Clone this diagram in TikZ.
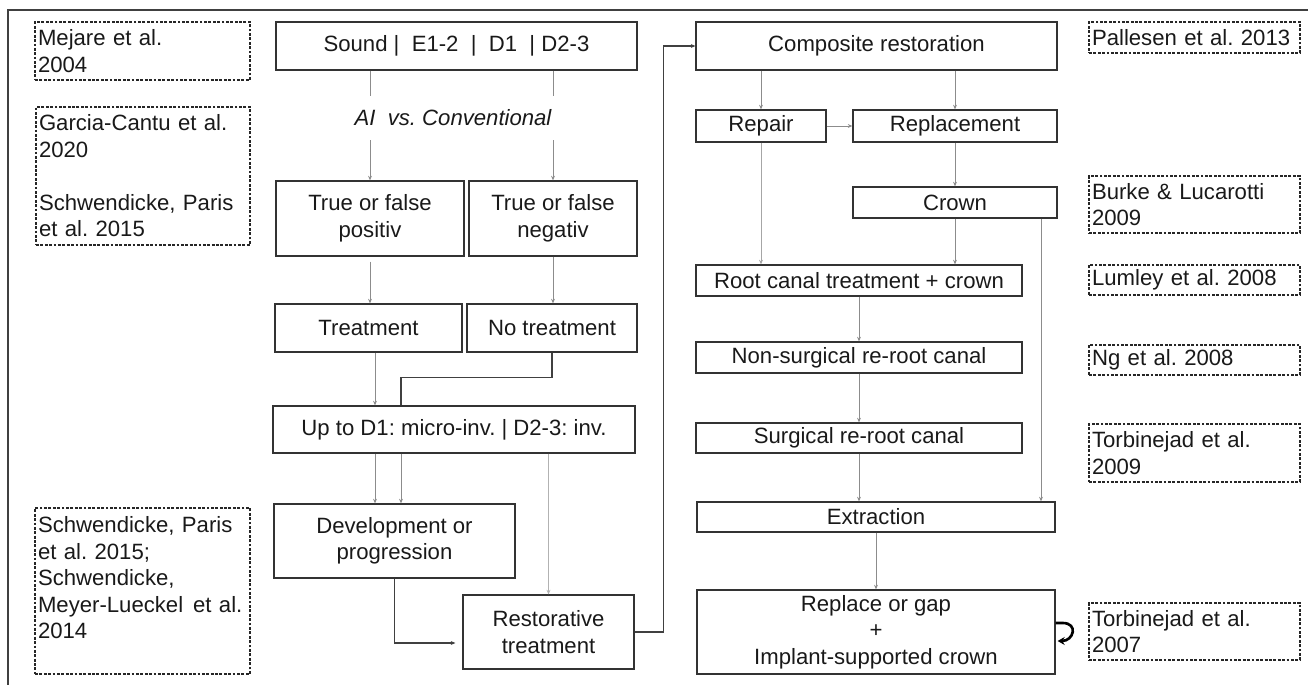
\documentclass[tikz,border=0pt]{standalone}
\usepackage{fontspec}
\setmainfont{Liberation Sans}
\usetikzlibrary{arrows.meta}
\newcommand{\diagfont}{\fontsize{12.6}{15.1}\selectfont\frenchspacing}
\tikzset{
  sz/.style 2 args={minimum width=#1*0.02cm, minimum height=#2*0.02cm},
  box/.style ={draw=black!80, line width=0.7pt, inner sep=0pt,
               align=center, text=black!90, font=\diagfont},
  ref/.style ={draw=black!85, line width=0.6pt, inner sep=0pt,
               dash pattern=on 1.6pt off 0.9pt,
               align=left, text=black!90, font=\diagfont},
  arr/.style ={-{Stealth[length=2.6pt,width=2.2pt]}, draw=black!45,
               line width=0.45pt},
  lnk/.style ={draw=black!45, line width=0.45pt},
  elb/.style ={draw=black!75, line width=0.6pt},
  hook/.style={-{Stealth[length=4pt,width=4.5pt]}, line width=1.5pt,
               black},
  frm/.style ={draw=black!75, line width=0.8pt},
}
\begin{document}
\begin{tikzpicture}[x=0.02cm, y=-0.02cm]
\useasboundingbox (0,0) rectangle (1308,685);
\draw[frm] (8,685) -- (8,10) -- (1308,10);
% references, left
\node[ref, sz={215}{58}, text width=4.18cm] (mej) at (142.5,51)
  {Mejare et al.\\2004};
\node[ref, sz={214}{138}, text width=4.16cm] (gar) at (143,176)
  {Garcia-Cantu et al.\\2020\\\mbox{}\\Schwendicke, Paris\\et al. 2015};
\node[ref, sz={215}{166}, text width=4.18cm] (sch) at (142.5,591)
  {Schwendicke, Paris\\et al. 2015;\\Schwendicke,\\
   \mbox{Meyer-Lueckel\hspace{0.45em}et al.}\\2014\\\mbox{}};
% diagnostic path
\node[box, sz={361}{48}] (snd) at (456.5,46)
  {Sound |\ \ E1-2\ \ |\ \ D1\ \ | D2-3};
\node[font=\diagfont\itshape, text=black!90, minimum height=0.88cm,
  inner sep=0pt] (ai) at (453,118) {AI\ \ vs. Conventional};
\node[box, sz={188}{75}] (pos) at (370,218.5) {True or false\\positiv};
\node[box, sz={168}{75}] (neg) at (553,218.5) {True or false\\negativ};
\node[box, sz={187}{48}] (trt) at (368.5,328) {Treatment};
\node[box, sz={170}{48}] (ntr) at (552,328) {No treatment};
\node[box, sz={362}{47}] (upto) at (454,429.5)
  {Up to D1: micro-inv. | D2-3: inv.};
\node[box, sz={241}{74}] (dev) at (394.5,541)
  {Development or\\progression};
\node[box, sz={171}{74}] (rst) at (548.5,632) {Restorative\\treatment};
% restoration path
\node[box, sz={361}{48}] (cmp) at (876.5,46) {Composite restoration};
\node[box, sz={130}{32}] (rep) at (761,126) {Repair};
\node[box, sz={204}{32}] (rpl) at (955,126) {Replacement};
\node[box, sz={204}{31}] (crn) at (955,202.5) {Crown};
\node[box, sz={326}{31}] (rct) at (859,280.5)
  {Root canal treatment + crown};
\node[box, sz={326}{31}] (nsr) at (859,357.5)
  {Non-surgical re-root canal};
\node[box, sz={326}{30}] (srg) at (859,438) {Surgical re-root canal};
\node[box, sz={358}{30}] (ext) at (876,517) {Extraction};
\node[box, sz={358}{84}] (gap) at (876,632)
  {Replace or gap\\+\\Implant-supported crown};
% references, right
\node[ref, sz={211}{31}, text width=4.1cm] (pal) at (1194.5,37.5)
  {Pallesen et al. 2013};
\node[ref, sz={211}{57}, text width=4.1cm] (brk) at (1194.5,204.5)
  {Burke \& Lucarotti\\2009};
\node[ref, sz={211}{30}, text width=4.1cm] (lum) at (1194.5,280)
  {Lumley et al. 2008};
\node[ref, sz={211}{30}, text width=4.1cm] (ngr) at (1194.5,360)
  {Ng et al. 2008};
\node[ref, sz={211}{58}, text width=4.1cm] (tb9) at (1194.5,453)
  {Torbinejad et al.\\2009};
\node[ref, sz={211}{57}, text width=4.1cm] (tb7) at (1194.5,631.5)
  {Torbinejad et al.\\2007};
\coordinate (la) at (375,0);
\coordinate (lb) at (401,0);
\coordinate (cx) at (1041,0);
% connectors
\draw[lnk] (snd.south -| pos) -- (ai.north -| pos);
\draw[lnk] (snd.south -| neg) -- (ai.north -| neg);
\draw[arr] (ai.south -| pos) -- (pos.north);
\draw[arr] (ai.south -| neg) -- (neg.north);
\draw[arr, shorten <=0.1cm] (pos.south) -- (trt.north -| pos);
\draw[arr] (neg.south) -- (ntr.north -| neg);
\draw[arr] (trt.south -| la) -- (upto.north -| la);
\draw[elb] (ntr.south) -- ++(0,25) -| (upto.north -| lb);
\draw[arr] (upto.south -| la) -- (dev.north -| la);
\draw[arr] (upto.south -| lb) -- (dev.north -| lb);
\draw[arr, draw=black!30] (upto.south -| rst) -- (rst.north);
\draw[elb, -{Stealth[length=2.6pt,width=2.2pt]}, shorten >=0.14cm]
  (dev.south) |- ([yshift=-0.22cm]rst.west);
\draw[elb, -{Stealth[length=2.6pt,width=2.2pt]}]
  (rst.east) -- ++(29,0) |- (cmp.west);
\draw[arr] (cmp.south -| rep) -- (rep.north);
\draw[arr] (cmp.south -| rpl) -- (rpl.north);
\draw[arr] (rep.east) -- (rpl.west);
\draw[arr] (rpl.south) -- (crn.north);
\draw[arr, draw=black!35] (rep.south) -- (rct.north -| rep);
\draw[arr] (crn.south) -- (rct.north -| crn);
\draw[arr] (crn.south -| cx) -- (ext.north -| cx);
\draw[arr] (rct.south) -- (nsr.north);
\draw[arr] (nsr.south) -- (srg.north);
\draw[arr] (srg.south) -- (ext.north -| srg);
\draw[arr] (ext.south) -- (gap.north -| ext);
\draw[hook] ([yshift=0.18cm]gap.east) -- ++(7,0)
  to[out=0, in=0, looseness=2.2] ++(-5,18);
\end{tikzpicture}
\end{document}
